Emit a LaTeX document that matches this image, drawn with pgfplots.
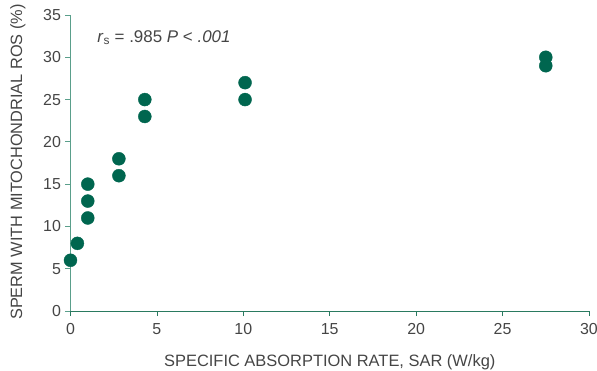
\documentclass[border=0pt]{standalone}
\usepackage{pgfplots}
\pgfplotsset{compat=1.18}
\usepackage{fontspec}
\setmainfont{Liberation Sans}
\definecolor{dotg}{HTML}{00664F}
\definecolor{yax}{HTML}{5A9F8B}
\definecolor{xax}{HTML}{2A7A60}
\definecolor{txt}{HTML}{454545}
\begin{document}
\begin{tikzpicture}
\begin{axis}[
  scale only axis, width=518.5bp, height=296bp,
  xmin=0, xmax=30, ymin=0, ymax=35,
  xtick={0,5,...,30}, ytick={0,5,...,35},
  axis x line*=bottom, axis y line*=left,
  x axis line style={xax, line width=1pt, -},
  y axis line style={yax, line width=1pt, -},
  tick align=outside, major tick length=5bp,
  x tick style={xax, line width=0.8pt},
  y tick style={yax, line width=0.8pt},
  tick label style={font=\fontsize{16}{19}\selectfont, text=txt},
  xticklabel style={yshift=-4bp},
  yticklabel style={xshift=-1bp},
  /pgf/number format/assume math mode=true,
  xlabel={SPECIFIC ABSORPTION RATE, SAR (W/kg)},
  ylabel={SPERM WITH MITOCHONDRIAL ROS (\%)},
  xlabel style={font=\fontsize{16.5}{19}\selectfont, text=txt, yshift=-13bp},
  ylabel style={font=\fontsize{16.4}{20}\selectfont, text=txt, yshift=11bp, xshift=1bp},
  clip=false,
]
\addplot[only marks, color=dotg, mark=*, mark size=6.5bp, mark options={draw=dotg, fill=dotg}] coordinates {
(0,6) (0.4,8) (1,15) (1,13) (1,11) (2.8,18) (2.8,16) (4.3,25) (4.3,23)
(10.1,27) (10.1,25) (27.5,30) (27.5,29)
};
\node[anchor=west, text=txt, font=\fontsize{17}{20}\selectfont] at (axis cs:1.35,32.3) {\textit{r}\textsubscript{s} = .985 \textit{P} < \textit{.001}};
\end{axis}
\pgfresetboundingbox
\path (-70.5bp,-60bp) rectangle (526.5bp,311bp);
\end{tikzpicture}
\end{document}
